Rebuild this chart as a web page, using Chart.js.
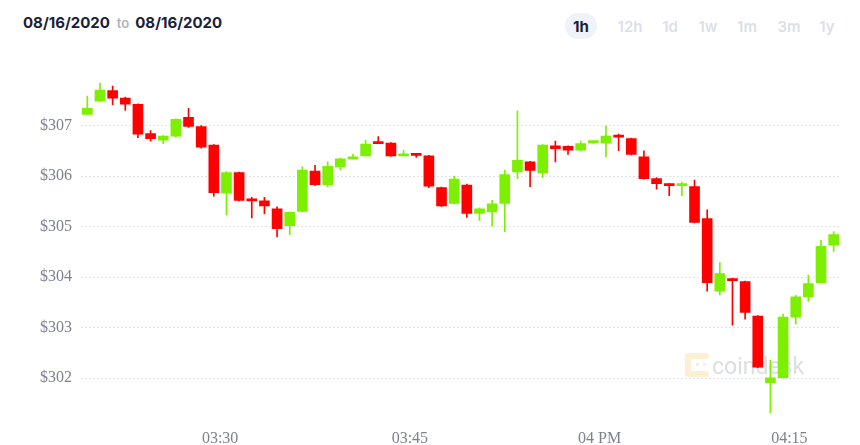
<!DOCTYPE html>
<html>
<head>
<meta charset="utf-8">
<script src="https://cdn.jsdelivr.net/npm/chart.js@4.4.0/dist/chart.umd.min.js"></script>
<style>
body { margin: 0; background: #fff; width: 860px; height: 445px; overflow: hidden; position: relative; font-family: Inter, Roboto, sans-serif; }
#chart { position: absolute; left: 0; top: 0; }
.range { position: absolute; left: 23px; top: 13px; font-size: 15px; line-height: 19px; font-weight: 700; color: #1a2036; white-space: nowrap; }
.range span { color: #b0b3bf; font-weight: 600; font-size: 13px; margin: 0 6px 0 7px; }
.btn { position: absolute; top: 13px; width: 32px; height: 26px; line-height: 27px; text-align: center; font-size: 15px; font-weight: 600; color: #dcdfe8; border-radius: 13px; }
.btn.on { background: #eff2f8; color: #1a2036; font-weight: 700; }
</style>
</head>
<body>
<div class="range">08/16/2020<span>to</span>08/16/2020</div>
<div id="btns"></div>
<canvas id="chart" width="860" height="445"></canvas>
<script>
// one minute candles, 03:19 -> 04:18
let times = ['03:19','03:20','03:21','03:22','03:23','03:24','03:25','03:26','03:27','03:28',
  '03:29','03:30','03:31','03:32','03:33','03:34','03:35','03:36','03:37','03:38',
  '03:39','03:40','03:41','03:42','03:43','03:44','03:45','03:46','03:47','03:48',
  '03:49','03:50','03:51','03:52','03:53','03:54','03:55','03:56','03:57','03:58',
  '03:59','04:00','04:01','04:02','04:03','04:04','04:05','04:06','04:07','04:08',
  '04:09','04:10','04:11','04:12','04:13','04:14','04:15','04:16','04:17','04:18'];
let open = [307.22,307.48,307.69,307.54,307.42,306.84,306.71,306.79,307.16,306.98,
  306.61,305.66,306.07,305.53,305.51,305.35,305.02,305.30,306.10,305.83,
  306.18,306.34,306.40,306.66,306.65,306.40,306.44,306.40,305.77,305.46,
  305.82,305.26,305.29,305.46,306.08,306.28,306.06,306.60,306.59,306.51,
  306.66,306.65,306.79,306.74,306.38,305.95,305.84,305.81,305.79,305.16,
  303.72,303.97,303.91,303.23,301.91,302.01,303.21,303.61,303.89,304.63];
let high = [307.58,307.84,307.78,307.56,307.43,306.90,306.80,307.13,307.34,307.00,
  306.62,306.09,306.08,305.58,305.58,305.39,305.29,306.18,306.21,306.28,
  306.35,306.43,306.71,306.78,306.66,306.51,306.45,306.41,305.78,306.00,
  305.84,305.37,305.52,306.12,307.29,306.29,306.62,306.69,306.60,306.69,
  306.69,306.99,306.83,306.75,306.50,305.97,305.85,305.88,305.92,305.33,
  304.29,303.98,303.92,303.24,302.36,303.27,303.64,304.04,304.73,304.90];
let low = [307.22,307.48,307.41,307.30,306.76,306.69,306.64,306.77,306.96,306.55,
  305.60,305.23,305.51,305.17,305.25,304.80,304.84,305.29,305.81,305.79,
  306.12,306.34,306.40,306.64,306.39,306.40,306.37,305.77,305.40,305.45,
  305.18,305.12,305.01,304.90,305.95,305.79,305.97,306.28,306.43,306.49,
  306.64,306.38,306.50,306.42,305.94,305.74,305.61,305.61,305.07,303.72,
  303.65,303.05,303.17,302.21,301.31,302.00,303.07,303.52,303.88,304.51];
let close = [307.34,307.70,307.54,307.42,306.83,306.74,306.79,307.12,306.98,306.57,
  305.67,306.07,305.52,305.51,305.41,304.96,305.28,306.12,305.83,306.19,
  306.34,306.38,306.63,306.64,306.40,306.42,306.41,305.80,305.41,305.94,
  305.26,305.35,305.45,306.03,306.31,306.11,306.61,306.54,306.51,306.64,
  306.68,306.79,306.77,306.43,305.95,305.85,305.81,305.83,305.08,303.89,
  304.07,303.93,303.30,302.22,302.01,303.21,303.61,303.87,304.61,304.84];

let yTicks = [302, 303, 304, 305, 306, 307];
let xTickValues = [30, 45, 60, 75];
let xTickLabels = ['03:30', '03:45', '04 PM', '04:15'];
let buttons = ['1h', '12h', '1d', '1w', '1m', '3m', '1y'];
let buttonX = [581, 630, 670, 708, 747, 789, 827];

let up = '#7def00';
let down = '#ff0000';

let btns = document.getElementById('btns');
buttons.forEach((b, i) => {
  let el = document.createElement('div');
  el.className = 'btn' + (i == 0 ? ' on' : '');
  el.style.left = (buttonX[i] - 16) + 'px';
  el.textContent = b;
  btns.appendChild(el);
});

function toMinutes(t) {
  let p = t.split(':');
  return (parseInt(p[0]) - 3) * 60 + parseInt(p[1]) + 0.5;
}

let bodies = times.map((t, i) => ({ x: toMinutes(t), y: [open[i], close[i]] }));
let wicks = times.map((t, i) => ({ x: toMinutes(t), y: [low[i], high[i]] }));

function candleColor(ctx) {
  let i = ctx.dataIndex;
  return close[i] >= open[i] ? up : down;
}

let watermark = {
  id: 'watermark',
  beforeDatasetsDraw(chart) {
    let c = chart.ctx;
    c.save();
    c.strokeStyle = '#fdf0d2';
    c.lineWidth = 6;
    c.lineCap = 'round';
    c.lineJoin = 'round';
    c.beginPath();
    c.moveTo(706, 356);
    c.lineTo(688, 356);
    c.lineTo(688, 374);
    c.lineTo(706, 374);
    c.stroke();
    c.fillStyle = '#fdf0d2';
    c.fillRect(696, 363, 3, 3);
    c.fillRect(703, 363, 3, 3);
    c.font = '23px Roboto';
    c.fillStyle = 'rgba(196,200,212,0.6)';
    c.textBaseline = 'alphabetic';
    c.fillText('coindesk', 712, 374);
    c.restore();
  }
};

let chart = new Chart(document.getElementById('chart'), {
  type: 'bar',
  data: {
    datasets: [{
      data: bodies,
      backgroundColor: candleColor,
      barThickness: 10,
      minBarLength: 2,
      grouped: false,
      order: 0
    }, {
      data: wicks,
      backgroundColor: candleColor,
      barThickness: 1,
      grouped: false,
      order: 1
    }]
  },
  options: {
    responsive: false,
    animation: false,
    layout: { padding: { top: 80, right: 20, left: 0, bottom: 0 } },
    plugins: {
      legend: { display: false },
      tooltip: { enabled: false }
    },
    scales: {
      x: {
        type: 'linear',
        min: 19,
        max: 79,
        offset: false,
        grid: { display: false },
        border: { display: false },
        afterFit: s => { s.height = 31.4; },
        afterBuildTicks: s => { s.ticks = xTickValues.map(v => ({ value: v })); },
        ticks: {
          autoSkip: false,
          maxRotation: 0,
          padding: 8,
          color: '#7d8190',
          font: { family: 'Liberation Sans Narrow', size: 16 },
          callback: v => xTickLabels[xTickValues.indexOf(v)]
        }
      },
      y: {
        min: 301.3,
        max: 307.9,
        z: 1,
        grid: { color: '#dfe2ec', drawTicks: false, lineWidth: 1 },
        border: { display: false, dash: [2, 2] },
        afterFit: s => { s.width = 81; },
        afterBuildTicks: s => { s.ticks = yTicks.map(v => ({ value: v })); },
        ticks: {
          padding: 9,
          color: '#7d8190',
          font: { family: 'Liberation Sans Narrow', size: 16 },
          callback: v => '$' + v
        }
      }
    }
  },
  plugins: [watermark]
});
</script>
</body>
</html>
